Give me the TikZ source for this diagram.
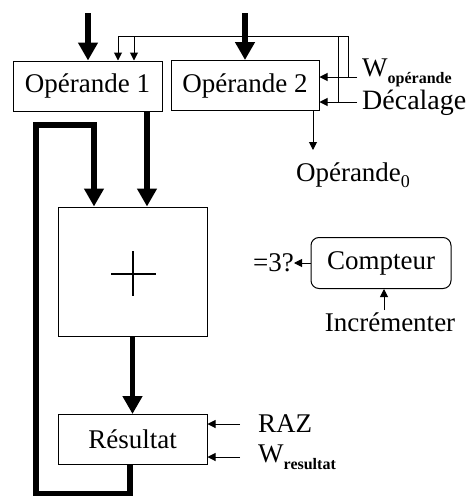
\documentclass[tikz,border=0pt]{standalone}
\usepackage{fontspec}
\setmainfont{Liberation Serif}
\usetikzlibrary{arrows.meta,positioning,calc}

\newcommand{\grand}{\fontsize{27}{30}\selectfont}
\newcommand{\moyen}{\fontsize{28}{30}\selectfont}
\newcommand{\indice}[1]{\raisebox{-7pt}{\fontsize{16}{16}\selectfont\bfseries #1}}

\begin{document}
\begin{tikzpicture}[x=1pt,y=-1pt,
  reg/.style={draw,line width=1pt,inner sep=0pt,minimum width=149pt,minimum height=50pt,font=\grand},
  lbl/.style={inner sep=0pt,font=\grand},
  cmd/.style={inner sep=0pt,font=\moyen},
  bus/.style={line width=5.5pt,-{Triangle[width=19pt,length=18pt]}},
  sig/.style={line width=1pt,-{Triangle[width=8pt,length=8pt]}}]
  \useasboundingbox (0,0) rectangle (469,496);

  % registres
  \node[reg] (op1) at (87.5,86) {Opérande 1};
  \node[reg,minimum width=148pt] (op2) at (245,85.5) {Opérande 2};
  \node[reg,minimum height=129pt] (add) at (132.5,271.5) {};
  \node[reg] (res) at (132.5,439.5) {Résultat};
  \node[reg,rounded corners=8pt,minimum width=140pt,minimum height=51pt] (cpt) at (381,263) {Compteur};

  % entrées
  \coordinate (e1) at (88,13);
  \coordinate (e2) at (245,13);
  \draw[bus] (e1) -- (e1 |- op1.north);
  \draw[bus] (e2) -- (op2.north);

  % vers l'additionneur
  \coordinate (a1) at (94,125);
  \coordinate (a2) at (147,125);
  \draw[bus] (op1.south -| a2) -- (add.north -| a2);
  \draw[bus] ($(res.south)+(-2.5,0)$) -- ++(0,29) -| (36,125) -| (add.north -| a1);
  \draw[bus] (add.south) -- (res.north);

  % le signe +
  \draw[line width=2.7pt] ($(add.center)+(-21.5,2.5)$) -- ++(45,0);
  \draw[line width=2.7pt] ($(add.center)+(0.5,-20.5)$) -- ++(0,45);

  % commandes de Opérande 2
  \coordinate (cw) at (357,77);
  \coordinate (cd) at (357,102);
  \coordinate (bw) at (348,36);
  \coordinate (bd) at (338,36);
  \coordinate (t1) at (118,36);
  \coordinate (t2) at (134,36);
  \node[lbl,anchor=base west] (wop) at (362,76) {W\indice{opérande}};
  \node[cmd,anchor=west] (dec) at ($(cd)+(5,1)$) {Décalage};
  \draw[sig] (cw) -- (op2.east |- cw);
  \draw[sig] (cd) -- (op2.east |- cd);
  \draw[sig] (bw |- cw) -- (bw) -- (t2) -- (t2 |- op1.north);
  \draw[sig] (bd |- cd) -- (bd) -- (t1) -- (t1 |- op1.north);

  % sortie Opérande_0
  \coordinate (o0) at (313,150);
  \node[lbl] (op0) at (353,175) {Opérande\raisebox{-6pt}{\fontsize{18}{18}\selectfont 0}};
  \draw[sig] (op2.south -| o0) -- (o0);

  % compteur
  \node[lbl,anchor=east] (eq) at (294,263) {=3?};
  \node[lbl] (inc) at (390,322) {Incrémenter};
  \coordinate (ci) at (384,310);
  \draw[sig] (cpt.west) -- (eq.east);
  \draw[sig] (ci) -- (ci |- cpt.south);

  % commandes de Résultat
  \coordinate (cr) at (240,424);
  \coordinate (cv) at (240,457);
  \node[lbl,anchor=base west] (raz) at (258,432) {RAZ};
  \node[lbl,anchor=base west] (wres) at (258,462) {W\indice{resultat}};
  \draw[sig] (cr) -- (res.east |- cr);
  \draw[sig] (cv) -- (res.east |- cv);
\end{tikzpicture}
\end{document}
